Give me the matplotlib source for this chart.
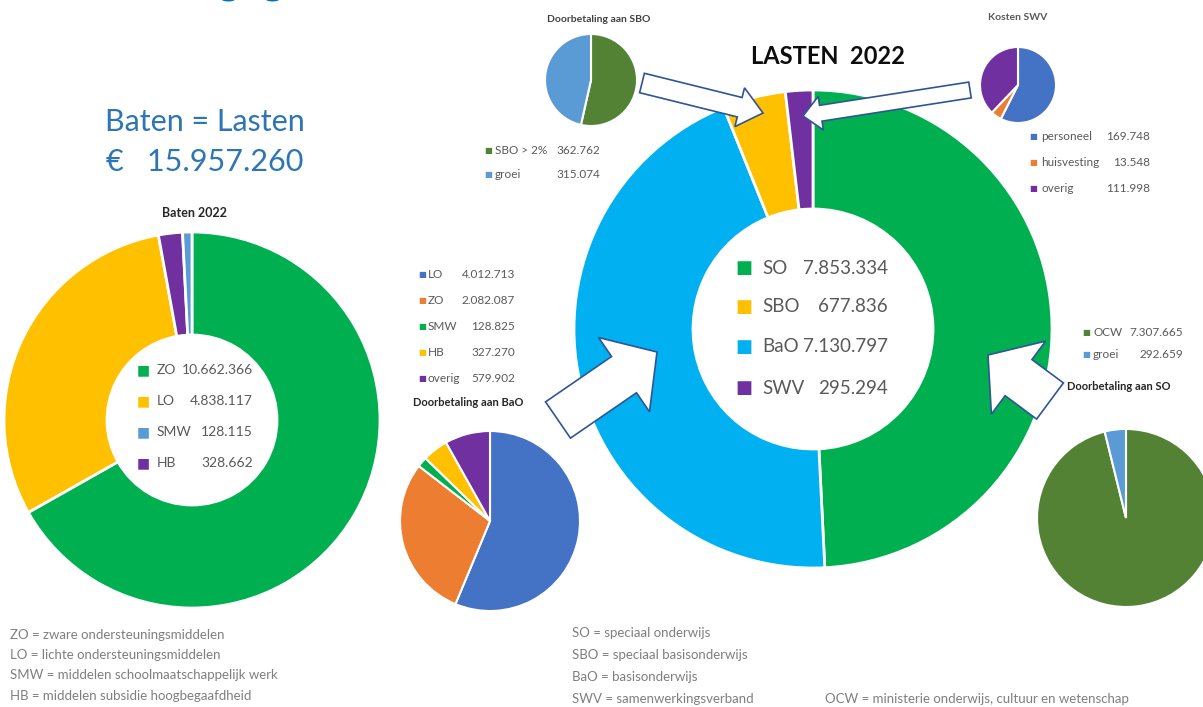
import matplotlib.pyplot as plt
from matplotlib.patches import FancyArrow

plt.rcParams['font.family'] = ['Lato', 'DejaVu Sans']

# data ---------------------------------------------------------------
baten_labels = ["ZO", "LO", "SMW", "HB"]
baten_values = [10662366, 4838117, 128115, 328662]
baten_colors = ["#00B050", "#FFC000", "#5B9BD5", "#7030A0"]
baten_order = [0, 1, 3, 2]          # clockwise order in the ring

lasten_labels = ["SO", "SBO", "BaO", "SWV"]
lasten_values = [7853334, 677836, 7130797, 295294]
lasten_colors = ["#00B050", "#FFC000", "#00B0F0", "#7030A0"]
lasten_order = [0, 2, 1, 3]

sbo_labels = ["SBO > 2%", "groei"]
sbo_values = [362762, 315074]
sbo_colors = ["#548235", "#5B9BD5"]

swv_labels = ["personeel", "huisvesting", "overig"]
swv_values = [169748, 13548, 111998]
swv_colors = ["#4472C4", "#ED7D31", "#7030A0"]

bao_labels = ["LO", "ZO", "SMW", "HB", "overig"]
bao_values = [4012713, 2082087, 128825, 327270, 579902]
bao_colors = ["#4472C4", "#ED7D31", "#00B050", "#FFC000", "#7030A0"]

so_labels = ["OCW", "groei"]
so_values = [7307665, 292659]
so_colors = ["#548235", "#5B9BD5"]

totaal = "15.957.260"

W, H = 1203, 707
GREY = "#595959"


def Y(py):
    return H - py


def fmt(v):
    return f"{v:,}".replace(",", ".")


def legend(labels, values, colors, x_sq, ys, x_lab, x_val, size, sq_size):
    for lab, val, col, y in zip(labels, values, colors, ys):
        ax.text(x_sq, Y(y), "■", color=col, fontsize=sq_size, ha="center", va="center")
        ax.text(x_lab, Y(y), lab, color=GREY, fontsize=size, ha="left", va="center")
        ax.text(x_val, Y(y), fmt(val), color=GREY, fontsize=size, ha="right", va="center")


fig = plt.figure(figsize=(W / 100, H / 100), dpi=100)
ax = fig.add_axes([0, 0, 1, 1])

# baten donut
ax.pie([baten_values[i] for i in baten_order], colors=[baten_colors[i] for i in baten_order],
       center=(192, Y(420)), radius=188, startangle=90, counterclock=False,
       wedgeprops=dict(width=103, edgecolor="white", linewidth=2))
# lasten donut
ax.pie([lasten_values[i] for i in lasten_order], colors=[lasten_colors[i] for i in lasten_order],
       center=(813, Y(329)), radius=239, startangle=90, counterclock=False,
       wedgeprops=dict(width=119, edgecolor="white", linewidth=2))
# small pies
ax.pie(sbo_values, colors=sbo_colors, center=(591, Y(80)), radius=46, startangle=90,
       counterclock=False, wedgeprops=dict(edgecolor="white", linewidth=1.5))
ax.pie(swv_values, colors=swv_colors, center=(1018, Y(85)), radius=38, startangle=90,
       counterclock=False, wedgeprops=dict(edgecolor="white", linewidth=1.5))
ax.pie(bao_values, colors=bao_colors, center=(490, Y(521)), radius=90, startangle=90,
       counterclock=False, wedgeprops=dict(edgecolor="white", linewidth=1.5))
ax.pie(so_values, colors=so_colors, center=(1126, Y(518)), radius=89, startangle=90,
       counterclock=False, explode=[0, 0.05], wedgeprops=dict(edgecolor="white", linewidth=1.5))

# block arrows
arrows = [((642, 83), (763, 113), 20, 40, 24),
          ((970, 90), (803, 116), 16, 34, 18),
          ((558, 420), (657, 352), 44, 90, 40),
          ((1050, 401), (988, 355), 45, 91, 38)]
for (x0, y0), (x1, y1), w, hw, hl in arrows:
    ax.add_patch(FancyArrow(x0, Y(y0), x1 - x0, -(y1 - y0), width=w, head_width=hw,
                            head_length=hl, length_includes_head=True,
                            facecolor="white", edgecolor="#2F5597", linewidth=1.2, zorder=5))

# titles (the big heading is cut off at the top, as in the original)
ax.text(20, Y(-18), "Financiële gegevens", color="#0070C0", fontsize=30, fontweight="bold",
        ha="left", va="center")
ax.text(205, Y(122), "Baten = Lasten", color="#2E75B6", fontsize=22, ha="center", va="center")
ax.text(205, Y(162), "€   " + totaal, color="#2E75B6", fontsize=22, ha="center", va="center")
ax.text(195, Y(213), "Baten 2022", color="#262626", fontsize=9, fontweight="bold", ha="center", va="center")
ax.text(828, Y(57), "LASTEN  2022", color="#0D0D0D", fontsize=17, fontweight="bold", ha="center", va="center")
ax.text(599, Y(20), "Doorbetaling aan SBO", color="#404040", fontsize=7.5, fontweight="bold", ha="center", va="center")
ax.text(1018, Y(17), "Kosten SWV", color=GREY, fontsize=7.5, fontweight="bold", ha="center", va="center")
ax.text(413, Y(402), "Doorbetaling aan BaO", color="#262626", fontsize=8, fontweight="bold", ha="left", va="center")
ax.text(1067, Y(387), "Doorbetaling aan SO", color="#262626", fontsize=8, fontweight="bold", ha="left", va="center")

# legends
legend(baten_labels, baten_values, baten_colors, 143, [370, 401, 432, 463], 157, 253, 10, 10)
legend(lasten_labels, lasten_values, lasten_colors, 744, [268, 307, 347, 388], 762, 888, 13.5, 13)
legend(sbo_labels, sbo_values, sbo_colors, 488, [150, 175], 495, 600, 8.5, 6)
legend(swv_labels, swv_values, swv_colors, 1033, [137, 163, 189], 1041, 1150, 8.5, 6)
legend(bao_labels, bao_values, bao_colors, 422, [275, 301, 327, 352, 378], 428, 515, 8.5, 6)
legend(so_labels, so_values, so_colors, 1086, [332, 355], 1093, 1183, 8.5, 6)

# footnotes
notes_left = ["ZO = zware ondersteuningsmiddelen", "LO = lichte ondersteuningsmiddelen",
              "SMW = middelen schoolmaatschappelijk werk", "HB = middelen subsidie hoogbegaafdheid"]
notes_mid = ["SO = speciaal onderwijs", "SBO = speciaal basisonderwijs",
             "BaO = basisonderwijs", "SWV = samenwerkingsverband"]
for t, y in zip(notes_left, [635, 655, 675, 696]):
    ax.text(10, Y(y), t, color="#7F7F7F", fontsize=9.5, ha="left", va="center")
for t, y in zip(notes_mid, [633, 655, 677, 699]):
    ax.text(572, Y(y), t, color="#7F7F7F", fontsize=9.5, ha="left", va="center")
ax.text(825, Y(699), "OCW = ministerie onderwijs, cultuur en wetenschap", color="#7F7F7F",
        fontsize=9.5, ha="left", va="center")

ax.set_xlim(0, W)
ax.set_ylim(0, H)
ax.set_aspect("equal")
ax.axis("off")
fig.savefig("out.png", dpi=100)
